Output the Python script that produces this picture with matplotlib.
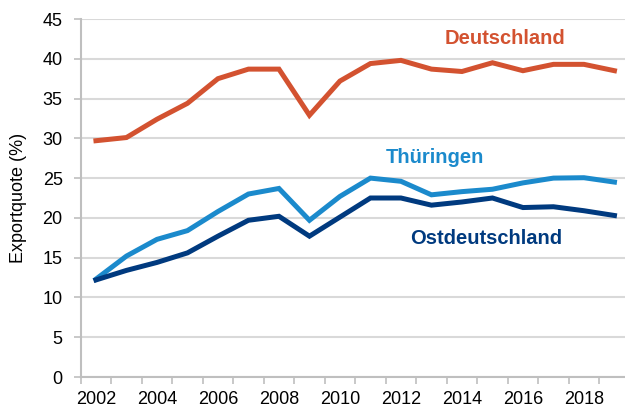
import numpy as np
import matplotlib
matplotlib.use('Agg')
import matplotlib.pyplot as plt

# Daten
jahre = list(range(2002, 2020))
deutschland = [29.7, 30.1, 32.4, 34.4, 37.5, 38.7, 38.7, 32.9, 37.2,
               39.4, 39.8, 38.7, 38.4, 39.5, 38.5, 39.3, 39.3, 38.5]
thueringen = [12.3, 15.2, 17.3, 18.4, 20.8, 23.0, 23.7, 19.7, 22.7,
              25.0, 24.6, 22.9, 23.3, 23.6, 24.4, 25.0, 25.05, 24.5]
ostdeutschland = [12.2, 13.4, 14.4, 15.6, 17.7, 19.7, 20.2, 17.7, 20.1,
                  22.5, 22.5, 21.6, 22.0, 22.5, 21.3, 21.4, 20.9, 20.3]

plt.rcParams['font.family'] = ['Liberation Sans', 'DejaVu Sans']
plt.rcParams['font.size'] = 13

fig = plt.figure(figsize=(6.25, 4.12), dpi=100)
ax = fig.add_axes([80.7/625, 35/412, 549/625, 358/412])

x = np.arange(len(jahre))
ax.plot(x, deutschland, color='#D35230', lw=3.6, solid_joinstyle='miter', zorder=3)
ax.plot(x, thueringen, color='#1B8ACC', lw=3.6, solid_joinstyle='miter', zorder=3)
ax.plot(x, ostdeutschland, color='#003A7F', lw=3.6, solid_joinstyle='miter', zorder=4)

ax.set_xlim(-0.5, 17.5)
ax.set_ylim(0, 45)
ax.set_yticks(range(0, 46, 5))
ax.yaxis.grid(True, color='#D9D9D9', lw=1.5)
ax.set_axisbelow(True)

# Beschriftung jedes zweite Jahr
ax.set_xticks(x[::2])
ax.set_xticklabels([str(j) for j in jahre[::2]])
ax.set_xticks(np.arange(-0.5, 18, 1), minor=True)
ax.tick_params(axis='x', which='major', length=0, pad=10, labelsize=13)
ax.tick_params(axis='x', which='minor', length=5, color='#BFBFBF', width=1.2)
ax.tick_params(axis='y', length=5, color='#BFBFBF', width=1.2, pad=8, labelsize=13)

for s in ['top', 'right']:
    ax.spines[s].set_visible(False)
for s in ['left', 'bottom']:
    ax.spines[s].set_color('#BFBFBF')
    ax.spines[s].set_linewidth(1.5)

ax.set_ylabel('Exportquote (%)', fontsize=13)
ax.yaxis.set_label_coords(-0.097, 0.5)

ax.text(13.4, 42.5, 'Deutschland', color='#D35230', fontsize=14.5,
        fontweight='bold', ha='center', va='center')
ax.text(11.1, 27.6, 'Thüringen', color='#1B8ACC', fontsize=14.5,
        fontweight='bold', ha='center', va='center')
ax.text(12.8, 17.4, 'Ostdeutschland', color='#003A7F', fontsize=14.5,
        fontweight='bold', ha='center', va='center')

fig.savefig('out.png', dpi=100)
